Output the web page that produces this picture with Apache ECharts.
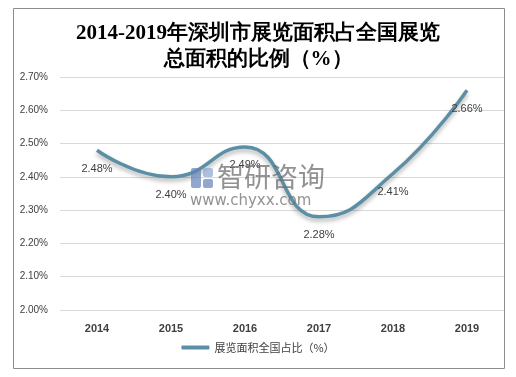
<!DOCTYPE html>
<html>
<head>
<meta charset="utf-8">
<script src="https://cdn.jsdelivr.net/npm/echarts@6/dist/echarts.min.js"></script>
<style>
html,body{margin:0;padding:0;background:#fff;}
#chart{width:516px;height:377px;}
</style>
</head>
<body>
<div id="chart"></div>
<script>
// 年份
const years = ['2014', '2015', '2016', '2017', '2018', '2019'];
// 展览面积全国占比（%）
const shareValues = [2.48, 2.40, 2.49, 2.28, 2.41, 2.66];
const seriesName = '展览面积全国占比（%）';
const titleText = '2014-2019年深圳市展览面积占全国展览\n总面积的比例（%）';

let mycharts = echarts.init(document.getElementById('chart'));
let option = {
    backgroundColor: '#fff',
    title: {
        text: titleText,
        left: 'center',
        top: 16,
        textStyle: {
            fontSize: 21,
            fontWeight: 'bold',
            fontFamily: 'serif',
            color: '#000',
            lineHeight: 26
        }
    },
    graphic: [
        {
            type: 'rect',
            shape: {x: 13.5, y: 8.5, width: 491, height: 360},
            style: {fill: 'none', stroke: '#8c8c8c', lineWidth: 1},
            silent: true
        },
        // 水印 logo
        {
            type: 'rect',
            shape: {x: 191, y: 168, width: 10, height: 20, r: 2},
            style: {fill: 'rgba(100,130,185,0.7)'},
            silent: true, z: 10
        },
        {
            type: 'rect',
            shape: {x: 203, y: 168, width: 10, height: 9, r: 2},
            style: {fill: 'rgba(140,165,210,0.7)'},
            silent: true, z: 10
        },
        {
            type: 'rect',
            shape: {x: 203, y: 179, width: 10, height: 9, r: 2},
            style: {fill: 'rgba(100,130,185,0.7)'},
            silent: true, z: 10
        },
        {
            type: 'text',
            left: 217, top: 163,
            style: {text: '智研咨询', fontSize: 27, fill: 'rgba(110,110,110,0.75)', fontFamily: 'Noto Sans CJK SC'},
            silent: true, z: 10
        },
        {
            type: 'text',
            left: 190, top: 194,
            style: {text: 'www.chyxx.com', fontSize: 15, fill: 'rgba(110,110,110,0.75)', fontFamily: 'DejaVu Sans', letterSpacing: 1.5},
            silent: true, z: 10
        }
    ],
    grid: {
        left: 60,
        right: 12,
        top: 77,
        bottom: 67,
        containLabel: false
    },
    legend: {
        bottom: 19,
        left: 'center',
        itemWidth: 28,
        itemHeight: 4,
        icon: 'roundRect',
        itemStyle: {color: '#5b8fa5', opacity: 1},
        textStyle: {fontSize: 11, color: '#404040', fontFamily: 'Noto Sans CJK SC'},
        data: [seriesName]
    },
    xAxis: {
        type: 'category',
        data: years,
        boundaryGap: true,
        axisLine: {show: false},
        axisTick: {show: false},
        axisLabel: {fontSize: 11, fontWeight: 'bold', color: '#404040', margin: 13}
    },
    yAxis: {
        type: 'value',
        min: 2.0,
        max: 2.7,
        interval: 0.1,
        axisLine: {show: false},
        axisTick: {show: false},
        splitLine: {lineStyle: {color: '#d9d9d9'}},
        axisLabel: {
            fontSize: 10,
            color: '#404040',
            margin: 12,
            formatter: v => v.toFixed(2) + '%'
        }
    },
    series: [
        {
            name: seriesName,
            type: 'line',
            data: shareValues,
            smooth: 0.5,
            symbol: 'circle',
            symbolSize: 2,
            showSymbol: true,
            lineStyle: {
                color: '#5b8fa5',
                width: 3.5,
                shadowColor: 'rgba(0,0,0,0.3)',
                shadowBlur: 4,
                shadowOffsetY: 3
            },
            itemStyle: {color: 'rgba(0,0,0,0)', borderWidth: 0},
            label: {
                show: true,
                position: 'bottom',
                distance: 12,
                fontSize: 11,
                color: '#404040',
                formatter: p => p.value.toFixed(2) + '%'
            }
        }
    ]
};
mycharts.setOption(option, true);
</script>
</body>
</html>
